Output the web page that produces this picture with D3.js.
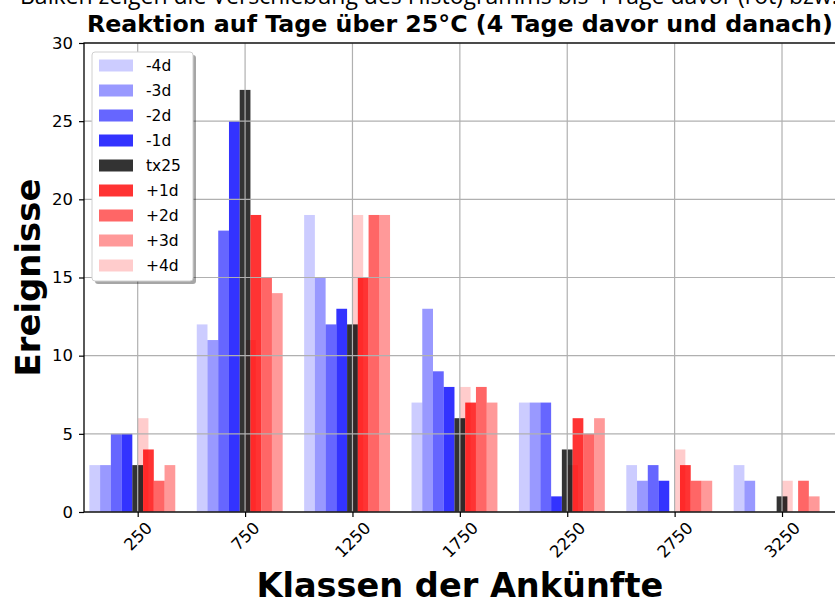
<!DOCTYPE html>
<html>
<head>
<meta charset="utf-8">
<script src="https://d3js.org/d3.v7.min.js"></script>
<style>
  body { margin: 0; background: #fff; }
  svg { display: block; }
</style>
</head>
<body>
<svg width="835" height="603"></svg>
<script>
// class centres (arrival classes) and the nine series
var classes = [250, 750, 1250, 1750, 2250, 2750, 3250];
var seriesNames = ["-4d", "-3d", "-2d", "-1d", "tx25", "+1d", "+2d", "+3d", "+4d"];
var m4d  = [3, 12, 19, 7, 7, 3, 3];
var m3d  = [3, 11, 15, 13, 7, 2, 2];
var m2d  = [5, 18, 12, 9, 7, 3, 0];
var m1d  = [5, 25, 13, 8, 1, 2, 0];
var tx25 = [3, 27, 12, 6, 4, 0, 1];
var p1d  = [4, 19, 15, 7, 6, 3, 0];
var p2d  = [2, 15, 19, 8, 5, 2, 2];
var p3d  = [3, 14, 19, 7, 6, 2, 1];
var p4d  = [6, 11, 19, 8, 3, 4, 2];
var yTicks = [0, 5, 10, 15, 20, 25, 30];
var xTicks = [250, 750, 1250, 1750, 2250, 2750, 3250];

var seriesValues = [m4d, m3d, m2d, m1d, tx25, p1d, p2d, p3d, p4d];
// bar offsets in data units relative to class centre
var seriesOffset = [-200, -150, -100, -50, 0, 50, 100, 150, 25];
var seriesColor = ["#0000ff", "#0000ff", "#0000ff", "#0000ff", "#000000", "#ff0000", "#ff0000", "#ff0000", "#ff0000"];
var seriesAlpha = [0.2, 0.4, 0.6, 0.8, 0.8, 0.8, 0.6, 0.4, 0.2];
var barW = 50;

var svg = d3.select("svg");

var x = d3.scaleLinear().domain([0, 3500]).range([84, 835.7]);
var y = d3.scaleLinear().domain([0, 30]).range([512, 43]);

function fit(sel, w) {
  var len = sel.node().getComputedTextLength();
  var fs = parseFloat(sel.attr("font-size"));
  sel.attr("font-size", fs * w / len);
}

// clipped caption line above the title
var cap = svg.append("text")
    .attr("x", 20).attr("y", 4)
    .attr("font-family", "Open Sans, Liberation Sans, sans-serif")
    .attr("font-size", 18)
    .attr("fill", "#000")
    .text("Balken zeigen die Verschiebung des Histogramms bis 4 Tage davor (rot) bzw.");
fit(cap, 818);

// bars (+4d first so it sits behind)
var order = [8, 0, 1, 2, 3, 4, 5, 6, 7];
var bars = svg.append("g").attr("class", "bars");
order.forEach(function(si) {
  bars.append("g")
    .selectAll("rect")
    .data(classes.map(function(c, i) { return { c: c, v: seriesValues[si][i] }; }))
    .enter().append("rect")
      .attr("x", function(d) { return x(d.c + seriesOffset[si] - barW / 2); })
      .attr("width", x(barW) - x(0))
      .attr("y", function(d) { return y(d.v); })
      .attr("height", function(d) { return y(0) - y(d.v); })
      .attr("fill", seriesColor[si])
      .attr("fill-opacity", seriesAlpha[si]);
});

// grid on top of bars
var grid = svg.append("g").attr("stroke", "#b0b0b0").attr("stroke-width", 1.2);
grid.selectAll(".gy").data(yTicks).enter().append("line")
    .attr("x1", x.range()[0]).attr("x2", x.range()[1])
    .attr("y1", function(d) { return y(d); }).attr("y2", function(d) { return y(d); });
grid.selectAll(".gx").data(xTicks).enter().append("line")
    .attr("x1", function(d) { return x(d); }).attr("x2", function(d) { return x(d); })
    .attr("y1", y.range()[1]).attr("y2", y.range()[0]);

// axes
var yAxis = svg.append("g")
    .attr("transform", "translate(" + x.range()[0] + ",0)")
    .call(d3.axisLeft(y).tickValues(yTicks).tickSize(5).tickPadding(6));
var xAxis = svg.append("g")
    .attr("transform", "translate(0," + y.range()[0] + ")")
    .call(d3.axisBottom(x).tickValues(xTicks).tickSize(5).tickFormat(d3.format("d")));
[yAxis, xAxis].forEach(function(a) {
  a.select(".domain").remove();
  a.selectAll("line").attr("stroke", "#000").attr("stroke-width", 1.2);
  a.selectAll("text")
    .attr("font-family", "DejaVu Sans, sans-serif")
    .attr("font-size", 16.5)
    .attr("fill", "#000");
});
xAxis.selectAll("text").each(function() {
  var t = d3.select(this);
  var w = this.getComputedTextLength();
  var h = 12;
  var half = (w + h) * 0.7071 / 2;
  t.attr("y", 0).attr("dy", null)
    .attr("text-anchor", "middle")
    .attr("dominant-baseline", "central")
    .attr("transform", "translate(0," + (9 + half) + ") rotate(-45)");
});

// spines
var sp = svg.append("g").attr("stroke", "#000").attr("stroke-width", 1.3).attr("fill", "none");
sp.append("rect")
    .attr("x", x.range()[0]).attr("y", y.range()[1])
    .attr("width", x.range()[1] - x.range()[0])
    .attr("height", y.range()[0] - y.range()[1]);

// title and axis labels
var title = svg.append("text")
    .attr("x", (x.range()[0] + x.range()[1]) / 2).attr("y", 32)
    .attr("text-anchor", "middle")
    .attr("font-family", "DejaVu Sans, sans-serif")
    .attr("font-weight", "bold")
    .attr("font-size", 19)
    .text("Reaktion auf Tage über 25°C (4 Tage davor und danach)");
fit(title, 746);

var xl = svg.append("text")
    .attr("x", (x.range()[0] + x.range()[1]) / 2).attr("y", 597)
    .attr("text-anchor", "middle")
    .attr("font-family", "DejaVu Sans, sans-serif")
    .attr("font-weight", "bold")
    .attr("font-size", 30)
    .text("Klassen der Ankünfte");
fit(xl, 407);

var yl = svg.append("text")
    .attr("transform", "translate(40," + ((y.range()[0] + y.range()[1]) / 2) + ") rotate(-90)")
    .attr("text-anchor", "middle")
    .attr("font-family", "DejaVu Sans, sans-serif")
    .attr("font-weight", "bold")
    .attr("font-size", 30)
    .text("Ereignisse");
fit(yl, 198);

// legend with shadow
var lg = svg.append("g").attr("transform", "translate(92,52)");
lg.append("rect")
    .attr("x", 3).attr("y", 3).attr("width", 101).attr("height", 229)
    .attr("rx", 3).attr("fill", "#000").attr("fill-opacity", 0.35);
lg.append("rect")
    .attr("width", 101).attr("height", 229).attr("rx", 3)
    .attr("fill", "#fff").attr("stroke", "#d0d0d0").attr("stroke-width", 1);
var items = lg.selectAll(".item").data(seriesNames).enter().append("g")
    .attr("transform", function(d, i) { return "translate(0," + (13.5 + i * 25) + ")"; });
items.append("rect")
    .attr("x", 7).attr("y", -6).attr("width", 34).attr("height", 12)
    .attr("fill", function(d, i) { return seriesColor[i]; })
    .attr("fill-opacity", function(d, i) { return seriesAlpha[i]; });
items.append("text")
    .attr("x", 54).attr("y", 0).attr("dy", "0.35em")
    .attr("font-family", "DejaVu Sans, sans-serif")
    .attr("font-size", 15.5)
    .text(function(d) { return d; });
</script>
</body>
</html>
